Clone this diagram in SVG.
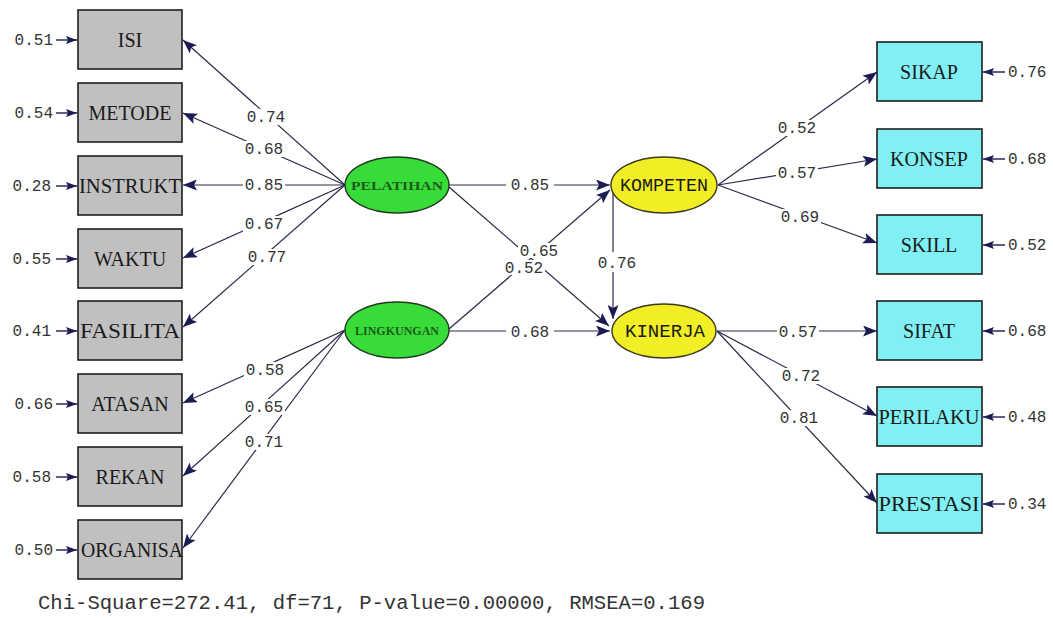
<svg xmlns="http://www.w3.org/2000/svg" width="1053" height="619" viewBox="0 0 1053 619">
<style>
.obsL{fill:#c0c0c0;stroke:#1e1e1e;stroke-width:1.6}
.obsR{fill:#80f0f4;stroke:#1e1e1e;stroke-width:1.6}
.lat1{fill:#38dc38;stroke:#1e3a1e;stroke-width:1.4}
.lat2{fill:#f2ee26;stroke:#3a3a1e;stroke-width:1.4}
.bt{font-family:"Liberation Serif","Times New Roman",serif;font-size:20px;fill:#1a1a1a;text-anchor:middle}
.lt1{font-family:"Liberation Serif","Times New Roman",serif;font-size:13px;font-weight:bold;fill:#1d5a1d;text-anchor:middle}
.lt2{font-family:"Liberation Mono","Courier New",monospace;font-size:18px;fill:#1a1a1a;text-anchor:middle}
.num{font-family:"Liberation Mono","Courier New",monospace;font-size:16px;fill:#333}
.c{fill:none;stroke:#2a2a48;stroke-width:1.2}
.e{fill:none;stroke:#1c1c50;stroke-width:1.4}
.bg{fill:#ffffff}
</style>
<defs>
<marker id="ah" markerUnits="userSpaceOnUse" markerWidth="15" markerHeight="11" refX="14" refY="5.5" orient="auto">
<path d="M0,0 L14,5.5 L0,11 L3,5.5 Z" fill="#1c1c54"/>
</marker>
<marker id="ahs" markerUnits="userSpaceOnUse" markerWidth="12" markerHeight="8" refX="11" refY="4" orient="auto">
<path d="M0,0 L11,4 L0,8 L2,4 Z" fill="#1c1c54"/>
</marker>
</defs>
<rect x="0" y="0" width="1053" height="619" fill="#ffffff"/>

<g id="connectors">
<path class="c" marker-end="url(#ah)" d="M345,185 L183,40"/>
<path class="c" marker-end="url(#ah)" d="M345,185 L183,113"/>
<path class="c" marker-end="url(#ah)" d="M345,185 L183,185"/>
<path class="c" marker-end="url(#ah)" d="M345,185 L183,258"/>
<path class="c" marker-end="url(#ah)" d="M345,185 L183,327"/>
<path class="c" marker-end="url(#ah)" d="M345,330 L183,403"/>
<path class="c" marker-end="url(#ah)" d="M345,330 L183,476"/>
<path class="c" marker-end="url(#ah)" d="M345,330 L183,548"/>
<path class="c" marker-end="url(#ah)" d="M449,185 L610,185"/>
<path class="c" marker-end="url(#ah)" d="M449,187 L609,326"/>
<path class="c" marker-end="url(#ah)" d="M449,329 L610,190"/>
<path class="c" marker-end="url(#ah)" d="M449,331 L610,331"/>
<path class="c" marker-end="url(#ah)" d="M613,191 L613,319"/>
<path class="c" marker-end="url(#ah)" d="M718,185 L877,72"/>
<path class="c" marker-end="url(#ah)" d="M718,185 L877,159"/>
<path class="c" marker-end="url(#ah)" d="M718,185 L877,243"/>
<path class="c" marker-end="url(#ah)" d="M717,331 L877,331"/>
<path class="c" marker-end="url(#ah)" d="M717,331 L877,416"/>
<path class="c" marker-end="url(#ah)" d="M717,331 L877,503"/>
<path class="e" marker-end="url(#ahs)" d="M56,40 L77,40"/>
<path class="e" marker-end="url(#ahs)" d="M56,113 L77,113"/>
<path class="e" marker-end="url(#ahs)" d="M56,186 L77,186"/>
<path class="e" marker-end="url(#ahs)" d="M56,259 L77,259"/>
<path class="e" marker-end="url(#ahs)" d="M56,331 L77,331"/>
<path class="e" marker-end="url(#ahs)" d="M56,404 L77,404"/>
<path class="e" marker-end="url(#ahs)" d="M56,477 L77,477"/>
<path class="e" marker-end="url(#ahs)" d="M56,550 L77,550"/>
<path class="e" marker-end="url(#ahs)" d="M1005,72 L983,72"/>
<path class="e" marker-end="url(#ahs)" d="M1005,159 L983,159"/>
<path class="e" marker-end="url(#ahs)" d="M1005,245 L983,245"/>
<path class="e" marker-end="url(#ahs)" d="M1005,331 L983,331"/>
<path class="e" marker-end="url(#ahs)" d="M1005,417 L983,417"/>
<path class="e" marker-end="url(#ahs)" d="M1005,504 L983,504"/>
<g id="path-labels">
<rect class="bg" x="245" y="109" width="42" height="16"/>
<text class="num" x="266" y="122" text-anchor="middle">0.74</text>
<rect class="bg" x="243" y="141" width="42" height="16"/>
<text class="num" x="264" y="154" text-anchor="middle">0.68</text>
<rect class="bg" x="243" y="177" width="42" height="16"/>
<text class="num" x="264" y="190" text-anchor="middle">0.85</text>
<rect class="bg" x="243" y="216" width="42" height="16"/>
<text class="num" x="264" y="229" text-anchor="middle">0.67</text>
<rect class="bg" x="246" y="249" width="42" height="16"/>
<text class="num" x="267" y="262" text-anchor="middle">0.77</text>
<rect class="bg" x="244" y="362" width="42" height="16"/>
<text class="num" x="265" y="375" text-anchor="middle">0.58</text>
<rect class="bg" x="243" y="399" width="42" height="16"/>
<text class="num" x="264" y="412" text-anchor="middle">0.65</text>
<rect class="bg" x="243" y="434" width="42" height="16"/>
<text class="num" x="264" y="447" text-anchor="middle">0.71</text>
<rect class="bg" x="506" y="177" width="48" height="16"/>
<text class="num" x="530" y="190" text-anchor="middle">0.85</text>
<rect class="bg" x="518" y="243" width="42" height="15"/>
<text class="num" x="539" y="256" text-anchor="middle">0.65</text>
<rect class="bg" x="503" y="260" width="42" height="15"/>
<text class="num" x="524" y="273" text-anchor="middle">0.52</text>
<rect class="bg" x="506" y="324" width="48" height="16"/>
<text class="num" x="530" y="337" text-anchor="middle">0.68</text>
<rect class="bg" x="596" y="252" width="42" height="20"/>
<text class="num" x="617" y="268" text-anchor="middle">0.76</text>
<rect class="bg" x="776" y="120" width="42" height="16"/>
<text class="num" x="797" y="133" text-anchor="middle">0.52</text>
<rect class="bg" x="776" y="165" width="42" height="16"/>
<text class="num" x="797" y="178" text-anchor="middle">0.57</text>
<rect class="bg" x="779" y="209" width="42" height="16"/>
<text class="num" x="800" y="222" text-anchor="middle">0.69</text>
<rect class="bg" x="777" y="324" width="42" height="16"/>
<text class="num" x="798" y="337" text-anchor="middle">0.57</text>
<rect class="bg" x="780" y="368" width="42" height="16"/>
<text class="num" x="801" y="381" text-anchor="middle">0.72</text>
<rect class="bg" x="778" y="410" width="42" height="16"/>
<text class="num" x="799" y="423" text-anchor="middle">0.81</text>
</g>
<g id="error-labels">
<text class="num" x="53" y="45" text-anchor="end">0.51</text>
<text class="num" x="53" y="118" text-anchor="end">0.54</text>
<text class="num" x="51" y="191" text-anchor="end">0.28</text>
<text class="num" x="51" y="264" text-anchor="end">0.55</text>
<text class="num" x="51" y="336" text-anchor="end">0.41</text>
<text class="num" x="53" y="409" text-anchor="end">0.66</text>
<text class="num" x="51" y="482" text-anchor="end">0.58</text>
<text class="num" x="53" y="555" text-anchor="end">0.50</text>
<text class="num" x="1008" y="77">0.76</text>
<text class="num" x="1008" y="164">0.68</text>
<text class="num" x="1008" y="250">0.52</text>
<text class="num" x="1008" y="336">0.68</text>
<text class="num" x="1008" y="422">0.48</text>
<text class="num" x="1008" y="509">0.34</text>
</g>
</g>

<g id="ISI"><rect class="obsL" x="78" y="10" width="104" height="59"/><text class="bt" x="130" y="47">ISI</text></g>
<g id="METODE"><rect class="obsL" x="78" y="83" width="104" height="59"/><text class="bt" x="130" y="120">METODE</text></g>
<g id="INSTRUKT"><rect class="obsL" x="78" y="156" width="104" height="59"/><text class="bt" x="130" y="193" textLength="102" lengthAdjust="spacingAndGlyphs">INSTRUKT</text></g>
<g id="WAKTU"><rect class="obsL" x="78" y="229" width="104" height="59"/><text class="bt" x="130" y="266">WAKTU</text></g>
<g id="FASILITA"><rect class="obsL" x="78" y="301" width="104" height="59"/><text class="bt" x="130" y="338" textLength="100" lengthAdjust="spacingAndGlyphs">FASILITA</text></g>
<g id="ATASAN"><rect class="obsL" x="78" y="374" width="104" height="59"/><text class="bt" x="130" y="411">ATASAN</text></g>
<g id="REKAN"><rect class="obsL" x="78" y="447" width="104" height="59"/><text class="bt" x="130" y="484">REKAN</text></g>
<g id="ORGANISA"><rect class="obsL" x="78" y="520" width="104" height="59"/><text class="bt" x="132" y="557" textLength="102" lengthAdjust="spacingAndGlyphs">ORGANISA</text></g>

<g id="PELATIHAN"><ellipse class="lat1" cx="397" cy="185" rx="52" ry="28"/><text class="lt1" x="397" y="190" textLength="92" lengthAdjust="spacingAndGlyphs">PELATIHAN</text></g>
<g id="LINGKUNGAN"><ellipse class="lat1" cx="397" cy="330" rx="52" ry="28"/><text class="lt1" x="397" y="335" textLength="84" lengthAdjust="spacingAndGlyphs">LINGKUNGAN</text></g>
<g id="KOMPETEN"><ellipse class="lat2" cx="664" cy="185" rx="53" ry="28"/><text class="lt2" x="664" y="191" textLength="88" lengthAdjust="spacingAndGlyphs">KOMPETEN</text></g>
<g id="KINERJA"><ellipse class="lat2" cx="664" cy="331" rx="52" ry="27"/><text class="lt2" x="665" y="337" textLength="80" lengthAdjust="spacingAndGlyphs">KINERJA</text></g>

<g id="SIKAP"><rect class="obsR" x="877" y="42" width="105" height="59"/><text class="bt" x="929" y="79">SIKAP</text></g>
<g id="KONSEP"><rect class="obsR" x="877" y="129" width="105" height="59"/><text class="bt" x="929" y="166">KONSEP</text></g>
<g id="SKILL"><rect class="obsR" x="877" y="215" width="105" height="59"/><text class="bt" x="929" y="252">SKILL</text></g>
<g id="SIFAT"><rect class="obsR" x="877" y="301" width="105" height="59"/><text class="bt" x="929" y="338">SIFAT</text></g>
<g id="PERILAKU"><rect class="obsR" x="877" y="387" width="105" height="59"/><text class="bt" x="929" y="424" textLength="101" lengthAdjust="spacingAndGlyphs">PERILAKU</text></g>
<g id="PRESTASI"><rect class="obsR" x="877" y="474" width="105" height="59"/><text class="bt" x="929" y="511" textLength="101" lengthAdjust="spacingAndGlyphs">PRESTASI</text></g>

<text x="38" y="609" font-family="'Liberation Mono','Courier New',monospace" font-size="20" fill="#333" textLength="667" lengthAdjust="spacingAndGlyphs">Chi-Square=272.41, df=71, P-value=0.00000, RMSEA=0.169</text>
</svg>
